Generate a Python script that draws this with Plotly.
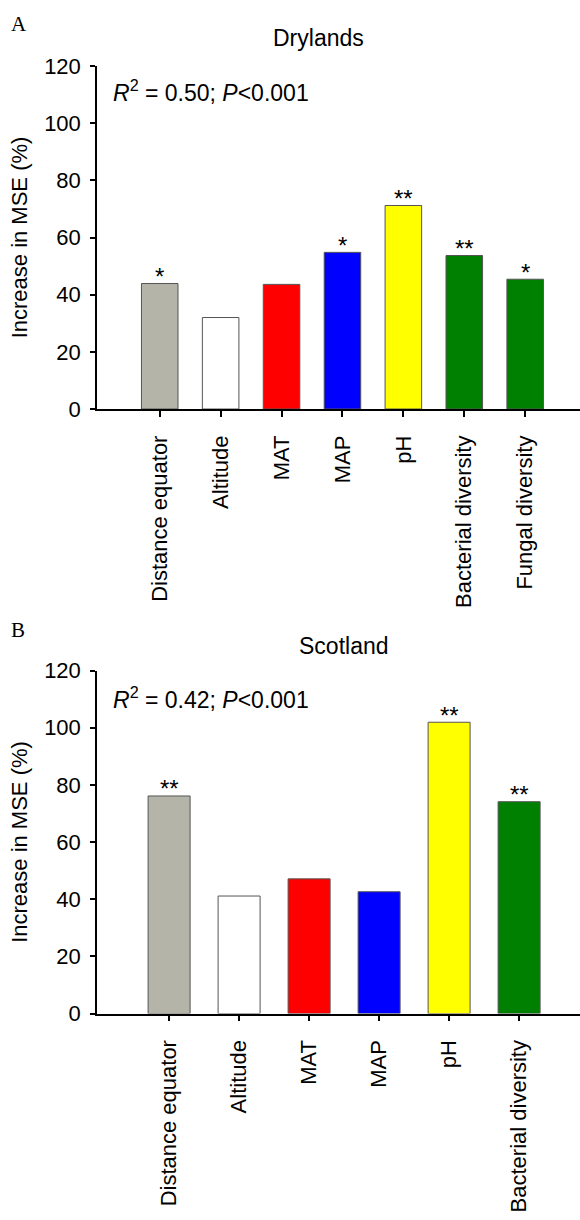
import plotly.graph_objects as go

# ---- data ----
dry_categories = ["Distance equator", "Altitude", "MAT", "MAP", "pH",
                  "Bacterial diversity", "Fungal diversity"]
dry_values = [43.9, 32.0, 43.6, 54.8, 71.2, 53.7, 45.4]
dry_sig = ["*", "", "", "*", "**", "**", "*"]
dry_colors = ["#b4b4a8", "#ffffff", "#ff0000", "#0000ff", "#ffff00", "#008000", "#008000"]

sco_categories = ["Distance equator", "Altitude", "MAT", "MAP", "pH",
                  "Bacterial diversity"]
sco_values = [76.1, 41.1, 47.1, 42.6, 101.9, 74.1]
sco_sig = ["**", "", "", "", "**", "**"]
sco_colors = ["#b4b4a8", "#ffffff", "#ff0000", "#0000ff", "#ffff00", "#008000"]

y_ticks = [0, 20, 40, 60, 80, 100, 120]
dry_title = "Drylands"
sco_title = "Scotland"
dry_stats = "<i>R</i><sup>2</sup> = 0.50; <i>P</i>&lt;0.001"
sco_stats = "<i>R</i><sup>2</sup> = 0.42; <i>P</i>&lt;0.001"

W, H = 580, 1220
FONT = "Liberation Sans, Arial, sans-serif"

def py(p):
    return 1 - p / H

def px(p):
    return p / W

fig = go.Figure()
fig.add_trace(go.Bar(x=dry_categories, y=dry_values, marker=dict(color=dry_colors, line=dict(color="#555555", width=1)),
                     width=0.6, xaxis="x", yaxis="y", showlegend=False, hoverinfo="skip"))
fig.add_trace(go.Bar(x=sco_categories, y=sco_values, marker=dict(color=sco_colors, line=dict(color="#555555", width=1)),
                     width=0.6, xaxis="x2", yaxis="y2", showlegend=False, hoverinfo="skip"))

common_x = dict(type="category", showline=True, linecolor="black", linewidth=1.5, ticks="outside",
                ticklen=6, tickwidth=1.5, tickcolor="black", tickangle=-90, showgrid=False, zeroline=False,
                tickfont=dict(family=FONT, size=22, color="black"), ticklabelstandoff=10,
                automargin=False, fixedrange=True)
common_y = dict(range=[0, 120], tickvals=y_ticks, showline=True, linecolor="black", linewidth=1.5, ticks="outside",
                ticklen=5, tickwidth=1.5, tickcolor="black", showgrid=False, zeroline=False,
                tickfont=dict(family=FONT, size=22, color="black"), ticklabelstandoff=5, automargin=False,
                title=dict(text="Increase in MSE (%)", font=dict(family=FONT, size=22, color="black"), standoff=10))

fig.update_layout(
    width=W, height=H, margin=dict(l=0, r=0, t=0, b=0, autoexpand=False),
    paper_bgcolor="white", plot_bgcolor="white", bargap=0.4,
    xaxis=dict(domain=[px(97), 1], range=[-1.03, 6.9], anchor="y", **common_x),
    yaxis=dict(domain=[py(409), py(66)], anchor="x", **common_y),
    xaxis2=dict(domain=[px(97), 1], range=[-1.03, 5.87], anchor="y2", **common_x),
    yaxis2=dict(domain=[py(1013.5), py(670.5)], anchor="x2", **common_y),
)

ann = []
for cats, vals, sigs, xr, yr in [(dry_categories, dry_values, dry_sig, "x", "y"),
                                 (sco_categories, sco_values, sco_sig, "x2", "y2")]:
    for c, v, s in zip(cats, vals, sigs):
        if s:
            ann.append(dict(x=c, y=v, xref=xr, yref=yr, text=s, showarrow=False, yanchor="middle",
                            yshift=7, font=dict(family=FONT, size=24, color="black")))

ann += [
    dict(x=px(318), y=py(38), xref="paper", yref="paper", text=dry_title, showarrow=False,
         yanchor="middle", font=dict(family=FONT, size=23, color="black")),
    dict(x=px(344), y=py(646), xref="paper", yref="paper", text=sco_title, showarrow=False,
         yanchor="middle", font=dict(family=FONT, size=23, color="black")),
    dict(x=px(111), y=py(91), xref="paper", yref="paper", text=dry_stats, showarrow=False, xanchor="left",
         yanchor="middle", font=dict(family=FONT, size=23, color="black")),
    dict(x=px(111), y=py(698), xref="paper", yref="paper", text=sco_stats, showarrow=False, xanchor="left",
         yanchor="middle", font=dict(family=FONT, size=23, color="black")),
    dict(x=px(9), y=py(24), xref="paper", yref="paper", text="A", showarrow=False, xanchor="left",
         yanchor="middle", font=dict(family="Liberation Serif, Times New Roman, serif", size=21, color="black")),
    dict(x=px(9), y=py(630), xref="paper", yref="paper", text="B", showarrow=False, xanchor="left",
         yanchor="middle", font=dict(family="Liberation Serif, Times New Roman, serif", size=21, color="black")),
]
fig.update_layout(annotations=ann)

fig.write_html("out.html", config={"displayModeBar": False},
               post_script="document.body.style.margin='0';document.body.style.padding='0';"
                           "document.documentElement.style.overflow='hidden';")
